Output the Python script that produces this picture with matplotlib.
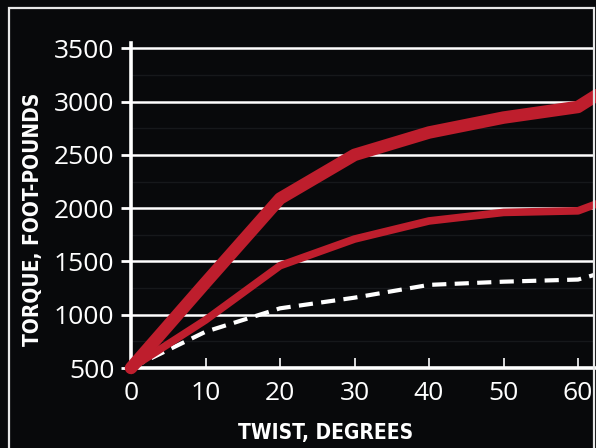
import numpy as np
import matplotlib as mpl
mpl.use('agg')
import matplotlib.pyplot as plt
from matplotlib.patches import Rectangle

## data
twist = [0, 10, 20, 30, 40, 50, 60, 62.5]
torque_high = [500, 1300, 2090, 2500, 2710, 2850, 2950, 3060]
torque_mid = [500, 950, 1460, 1710, 1880, 1960, 1975, 2040]
torque_low = [500, 840, 1060, 1160, 1280, 1310, 1330, 1380]

x_ticks = [0, 10, 20, 30, 40, 50, 60]
y_ticks = [500, 1000, 1500, 2000, 2500, 3000, 3500]

bg = '#08090b'
red = '#be1e2d'
num_font = ['Open Sans', 'DejaVu Sans']
lab_font = ['DejaVu Sans']

W, H = 596, 448
fig = plt.figure(figsize=(W / 100, H / 100), dpi=100)
fig.patch.set_facecolor(bg)

## white frame, bottom edge runs off the picture
fig.patches.append(Rectangle((9 / W, -0.1), (594 - 9) / W, 1.1 - 8.5 / H,
                             transform=fig.transFigure, fill=False,
                             edgecolor='#e8e8e8', linewidth=1.6, zorder=0))

left, right, top, bottom = 131, 595, 43, 368
ax = fig.add_axes([left / W, 1 - bottom / H, (right - left) / W, (bottom - top) / H])
ax.set_facecolor(bg)

x_max = (right - left) / 74.5 * 10
ax.set_ylim(500, 3550)

## grid
ax.set_yticks(y_ticks)
ax.set_yticks(np.arange(750, 3500, 500), minor=True)
ax.grid(axis='y', which='major', color='white', linewidth=1.8, zorder=1)
ax.grid(axis='y', which='minor', color='#16181b', linewidth=1.0, zorder=1)
ax.tick_params(axis='y', which='minor', length=0)

ax.plot(twist, torque_low, color='white', linewidth=3.0, linestyle=(0, (3.4, 2.0)),
        zorder=3, clip_on=True)
ax.plot(twist, torque_mid, color=red, linewidth=5.5, solid_capstyle='round',
        solid_joinstyle='round', zorder=4, clip_on=False)
ax.plot(twist, torque_high, color=red, linewidth=9.0, solid_capstyle='round',
        solid_joinstyle='round', zorder=5, clip_on=False)
ax.set_xlim(0, x_max)

for s in ['top', 'right']:
    ax.spines[s].set_visible(False)
for s in ['left', 'bottom']:
    ax.spines[s].set_color('white')
    ax.spines[s].set_linewidth(2.6)
    ax.spines[s].set_zorder(2)

ax.set_xticks(x_ticks)
ax.tick_params(axis='x', direction='in', length=7, width=1.2, color='white',
               pad=9, labelcolor='white', labelsize=19)
ax.tick_params(axis='y', direction='out', length=7, width=2.0, color='white',
               pad=5, labelcolor='white', labelsize=19)
for lab in ax.get_xticklabels() + ax.get_yticklabels():
    lab.set_family(num_font)

fig.text(326 / W, 1 - 433 / H, 'TWIST, DEGREES', color='white', fontsize=15,
         fontweight='bold', fontstretch='condensed', family=lab_font,
         ha='center', va='center')
fig.text(33 / W, 1 - 219 / H, 'TORQUE, FOOT-POUNDS', color='white', fontsize=15,
         fontweight='bold', fontstretch='condensed', family=lab_font,
         ha='center', va='center', rotation=90)

fig.savefig('out.png', dpi=100, facecolor=bg)
